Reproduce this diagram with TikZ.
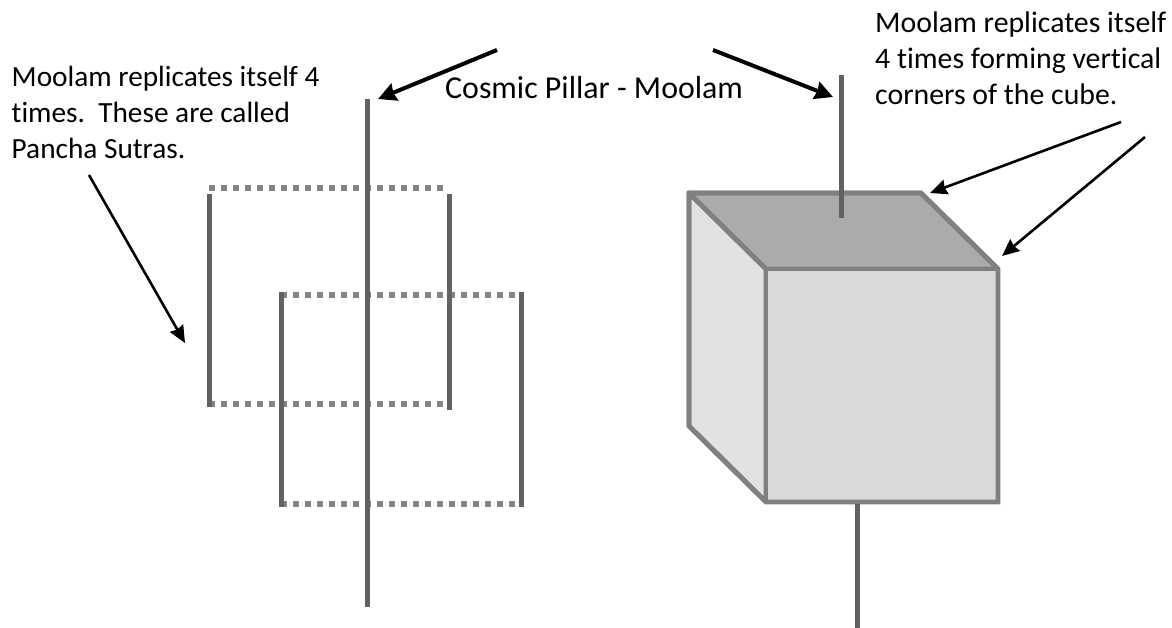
\documentclass[tikz,border=0pt]{standalone}
\usepackage{fontspec}
\setmainfont[Ligatures=NoCommon]{Carlito}
\usetikzlibrary{arrows.meta,positioning}
\definecolor{pillar}{HTML}{626262}
\definecolor{dotline}{HTML}{858585}
\definecolor{cubeline}{HTML}{808080}
\definecolor{sideface}{HTML}{E2E2E2}
\definecolor{topface}{HTML}{ABABAB}
\definecolor{frontface}{HTML}{D9D9D9}
\tikzset{
    pillarline/.style={draw=pillar, line width=5pt},
    dotted line/.style={draw=dotline, line width=5.5pt, dash pattern=on 5.5pt off 6.5pt},
    cubeface/.style={draw=cubeline, line width=4.8pt, line join=bevel},
    note/.style={font=\fontsize{29.8pt}{36pt}\selectfont, inner sep=0pt, anchor=base west},
    leftnote/.style={note, font=\fontsize{29.3pt}{36pt}\selectfont},
    thin pointer/.style={draw=black, line width=2.6pt, -{Stealth[length=17pt,width=15pt,inset=1.5pt]}},
    thick pointer/.style={draw=black, line width=4pt, -{Stealth[length=18pt,width=18pt,inset=1.5pt]}}
}
\begin{document}
\begin{tikzpicture}[x=1pt, y=-1pt]
    \useasboundingbox (0,0) rectangle (1172,628);
    % texts
    \node[leftnote] (leftone) at (11.5,87) {Moolam replicates itself 4};
    \node[leftnote] (lefttwo) at (11.5,123) {times.\ \ These are called};
    \node[leftnote] (leftthree) at (11.5,159) {Pancha Sutras.};
    \node[note, font=\fontsize{31.9pt}{36pt}\selectfont] (cosmic) at (445,99) {Cosmic Pillar - Moolam};
    \node[note] (rightone) at (875,33) {Moolam replicates itself};
    \node[note] (righttwo) at (875,69) {4 times forming vertical};
    \node[note] (rightthree) at (875,105) {corners of the cube.};
    % replicated squares
    \foreach \x/\y/\b in {209/188/404, 281/295/504} {
        \draw[dotted line] (\x,\y) -- ++(236,0);
        \draw[dotted line] (\x,\b) -- ++(236,0);
    }
    \draw[pillarline] (209,194) -- (209,407);
    \draw[pillarline] (449,194) -- (449,410);
    \draw[pillarline] (281,292) -- (281,507);
    \draw[pillarline] (521,292) -- (521,507);
    \draw[pillarline] (367,99) -- (367,607);
    % cube
    \coordinate (backleft) at (689,193);
    \coordinate (backright) at (921,193);
    \coordinate (frontleft) at (766,269);
    \coordinate (frontright) at (998,269);
    \coordinate (bottomleft) at (766,502);
    \coordinate (bottomright) at (998,502);
    \coordinate (backbottom) at (689,426);
    \draw[cubeface, fill=sideface] (backleft) -- (frontleft) -- (bottomleft) -- (backbottom) -- cycle;
    \draw[cubeface, fill=topface] (backleft) -- (backright) -- (frontright) -- (frontleft) -- cycle;
    \draw[cubeface, fill=frontface] (frontleft) -- (frontright) -- (bottomright) -- (bottomleft) -- cycle;
    \draw[cubeface, line join=miter, miter limit=4] (backleft) -- (backright) -- (frontright) -- (bottomright) -- (bottomleft) -- (backbottom) -- cycle;
    \draw[pillarline] (841,75) -- (841,218);
    \draw[pillarline] (857,504) -- (857,628);
    % pointers
    \coordinate (cosmicleft) at (497,50);
    \coordinate (pillarleft) at (378,99);
    \coordinate (cosmicright) at (713,50);
    \coordinate (pillarright) at (833,97);
    \coordinate (cornerone) at (1121,122);
    \coordinate (edgeone) at (930,193);
    \coordinate (cornertwo) at (1145,137);
    \coordinate (edgetwo) at (1002,256);
    \coordinate (sutras) at (89,175);
    \coordinate (sutrastip) at (185,343);
    \draw[thick pointer] (cosmicleft) -- (pillarleft);
    \draw[thick pointer] (cosmicright) -- (pillarright);
    \draw[thin pointer] (cornerone) -- (edgeone);
    \draw[thin pointer] (cornertwo) -- (edgetwo);
    \draw[thin pointer] (sutras) -- (sutrastip);
\end{tikzpicture}
\end{document}
